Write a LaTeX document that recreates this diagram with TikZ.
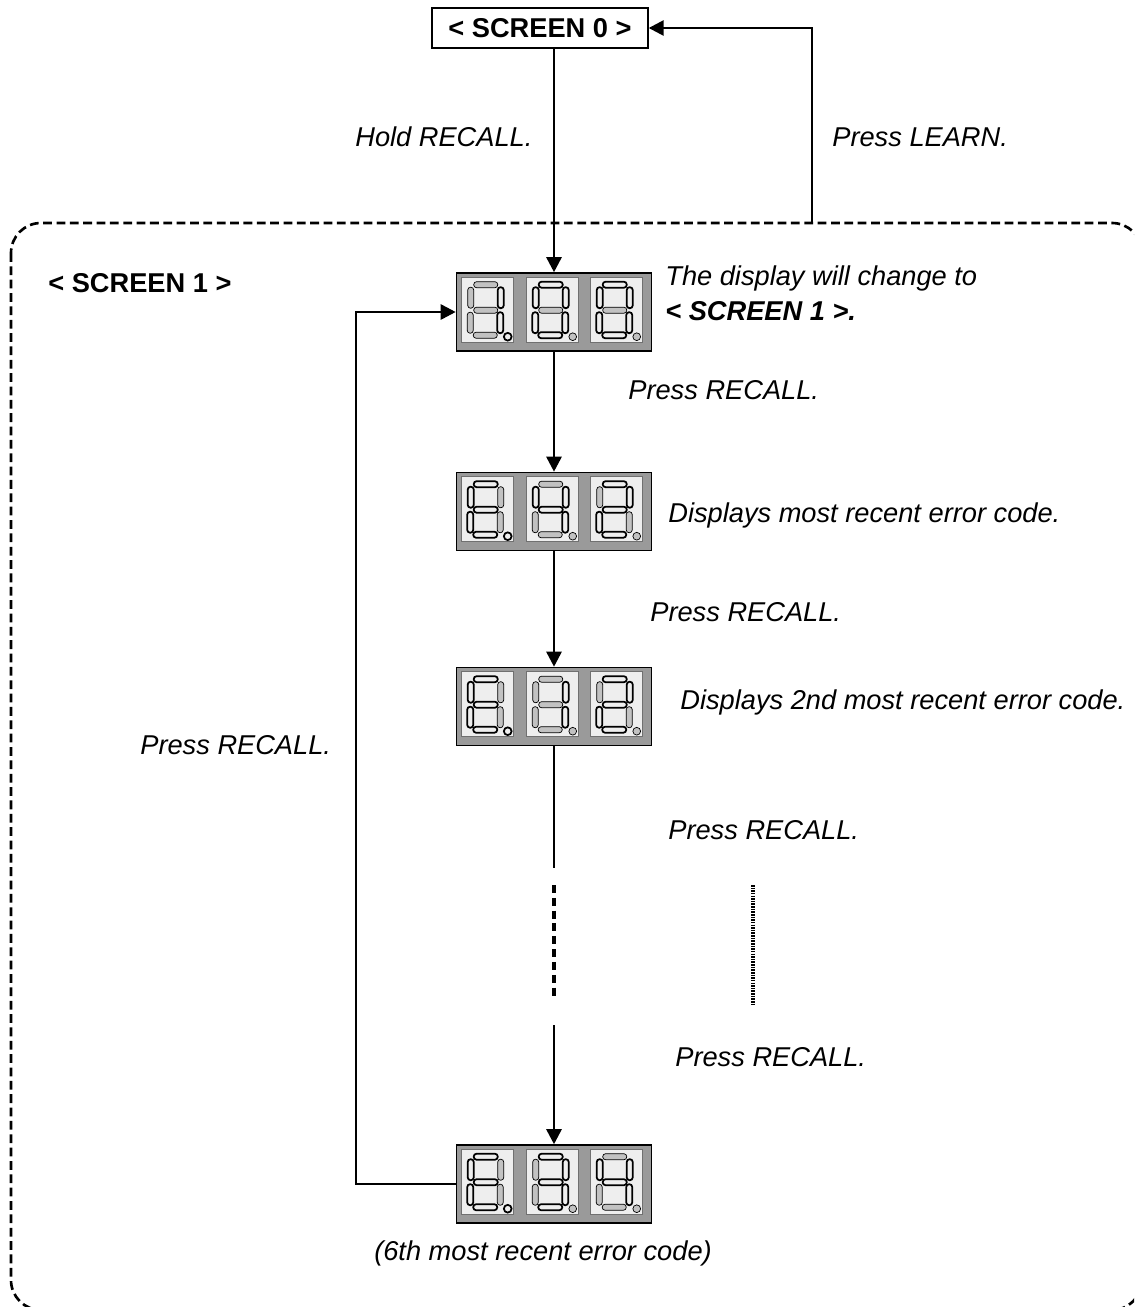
\documentclass[tikz,border=0pt]{standalone}
\usepackage{fontspec}
\setmainfont{Liberation Sans}
\usetikzlibrary{arrows.meta}
\definecolor{dispgray}{HTML}{9A9A9A}
\definecolor{winfill}{HTML}{EEEEEE}
\definecolor{winedge}{HTML}{707070}
\definecolor{segoff}{HTML}{C2C2C2}
% one digit window: #1 x offset, #2-#8 segments a-g (1 on, 0 off), #9 point
\newcommand{\segdigit}[9]{%
  \begin{scope}[shift={(#1,5)}]
    \draw[win] (0,0) rectangle (52,65);
    \draw[seg#2] (12,4.5) rectangle (36,10.5);
    \draw[seg#3] (36,10) rectangle (42,31);
    \draw[seg#4] (35.5,35) rectangle (41.5,56);
    \draw[seg#5] (11.5,55) rectangle (35.5,61);
    \draw[seg#6] (5.5,35) rectangle (11.5,56);
    \draw[seg#7] (6,10) rectangle (12,31);
    \draw[seg#8] (12,30) rectangle (36,36);
    \draw[seg#9] (46,59.5) circle[radius=2.2pt];
  \end{scope}}
\begin{document}
\begin{tikzpicture}[x=0.02cm, y=-0.02cm,
    lbl/.style={font=\fontsize{15.5}{19.8}\selectfont\itshape, anchor=west, inner sep=0pt, align=left},
    head/.style={font=\fontsize{15.5}{19}\selectfont\bfseries, inner sep=0pt},
    disp/.style={draw=black, fill=dispgray, line width=0.9pt, minimum width=3.9cm, minimum height=1.56cm, inner sep=0pt},
    win/.style={draw=winedge, fill=winfill, line width=0.5pt},
    seg1/.style={draw=black, fill=winfill, line width=1pt, rounded corners=1.6pt},
    seg0/.style={fill=segoff, rounded corners=1.6pt},
    arr/.style={-{Triangle[length=0.3cm, width=0.3cm]}, line width=1.5pt},
    link/.style={line width=2pt},
    border/.style={dashed, dash pattern=on 5pt off 2.6pt, line width=1.5pt, rounded corners=0.6cm}]
  \useasboundingbox (0,0) rectangle (1134,1307);
  \clip (0,0) rectangle (1134,1307);
  % dashed frame of screen 1
  \draw[border] (11,223) rectangle (1142,1310);
  \coordinate (learn) at (812,223);
  % screen 0
  \node[draw, line width=0.8pt, minimum width=4.32cm, minimum height=0.8cm, inner sep=0pt] (s0) at (540,28) {};
  \node[head] (s0txt) at (s0) {< SCREEN 0 >};
  \node[head, anchor=west] (s1txt) at (48,283) {< SCREEN 1 >};
  % the four displays
  \node[disp] (d1) at (554,312) {};
  \node[disp] (d2) at (554,511.5) {};
  \node[disp] (d3) at (554,706.5) {};
  \node[disp] (d4) at (554,1184) {};
  \begin{scope}[shift={(d1.north west)}]
    \segdigit{6}{0}{1}{1}{0}{0}{0}{0}{1}
    \segdigit{71}{1}{1}{1}{1}{1}{1}{0}{0}
    \segdigit{135}{1}{1}{1}{1}{1}{1}{0}{0}
  \end{scope}
  \begin{scope}[shift={(d2.north west)}]
    \segdigit{6}{1}{0}{0}{1}{1}{1}{1}{1}
    \segdigit{71}{0}{1}{1}{0}{0}{1}{1}{0}
    \segdigit{135}{1}{1}{0}{1}{1}{0}{1}{0}
  \end{scope}
  \begin{scope}[shift={(d3.north west)}]
    \segdigit{6}{1}{0}{0}{1}{1}{1}{1}{1}
    \segdigit{71}{0}{1}{1}{0}{0}{0}{0}{0}
    \segdigit{135}{1}{1}{0}{1}{1}{0}{1}{0}
  \end{scope}
  \begin{scope}[shift={(d4.north west)}]
    \segdigit{6}{1}{0}{0}{1}{1}{1}{1}{1}
    \segdigit{71}{1}{1}{1}{1}{0}{0}{1}{0}
    \segdigit{135}{0}{1}{1}{0}{0}{1}{1}{0}
  \end{scope}
  % connectors
  \draw[arr] (s0.south -| d1.north) -- (d1.north);
  \draw[arr] (learn) |- (s0.east);
  \draw[arr] (d1.south) -- (d2.north);
  \draw[arr] (d2.south) -- (d3.north);
  \coordinate (gapa) at (554,868);
  \coordinate (gapb) at (554,885);
  \coordinate (gapc) at (554,999);
  \coordinate (gapd) at (554,1025);
  \draw[line width=0.7pt] (d3.south) -- (gapa);
  \draw[link, dash pattern=on 4.5pt off 2.8pt] (gapb) -- (gapc);
  \draw[arr] (gapd) -- (d4.north);
  \coordinate (dota) at (753,885);
  \coordinate (dotb) at (753,1005);
  \draw[line width=1.8pt, dash pattern=on 0.9pt off 0.6pt] (dota) -- (dotb);
  \coordinate (loop) at (356,0);
  \draw[arr] (d4.west) -| (loop |- d1.west) -- (d1.west);
  % labels
  \node[lbl] (hold) at (355,137) {Hold RECALL.};
  \node[lbl] (plearn) at (832,137) {Press LEARN.};
  \node[lbl] (change) at (665,293.5) {The display will change to\\\textbf{< SCREEN 1 >.}};
  \node[lbl] (rc1) at (628,390) {Press RECALL.};
  \node[lbl] (msg2) at (668,515) {Displays most recent error code.};
  \node[lbl] (rc2) at (650,612) {Press RECALL.};
  \node[lbl] (msg3) at (680,702) {Displays 2nd most recent error code.};
  \node[lbl] (rc3) at (668,830) {Press RECALL.};
  \node[lbl] (rc4) at (675,1057) {Press RECALL.};
  \node[lbl] (rcback) at (140,745) {Press RECALL.};
  \node[lbl, anchor=center] (msg4) at (543,1253) {(6th most recent error code)};
\end{tikzpicture}
\end{document}
